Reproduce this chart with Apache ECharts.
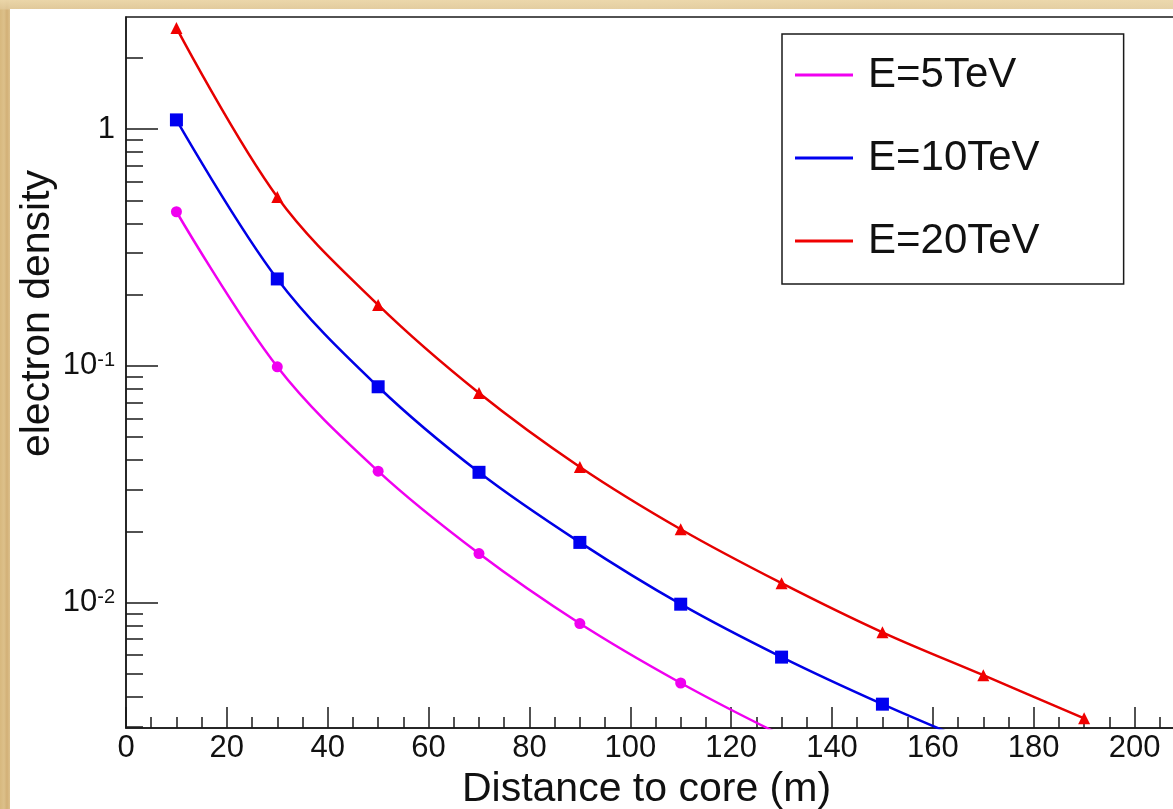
<!DOCTYPE html>
<html>
<head>
<meta charset="utf-8">
<script src="https://cdn.jsdelivr.net/npm/echarts@6/dist/echarts.min.js"></script>
<style>
  html, body { margin: 0; padding: 0; width: 1173px; height: 809px; overflow: hidden; }
  body {
    position: relative;
    background:
      linear-gradient(180deg, rgba(236,216,172,0.9) 0px, rgba(226,204,160,0.7) 9px, rgba(0,0,0,0) 10px),
      linear-gradient(90deg, #d7b87e 0px, #dcc08a 4px, #d2b077 7px, #dcc08c 10px, #e4cc9c 30%, #e8d4a8 55%, #e3c996 75%, #ecdcb6 100%);
  }
  #chart { position: absolute; left: 10px; top: 9px; width: 1175px; height: 800px; background: #fff; }
</style>
</head>
<body>
<div id="chart"></div>
<script>
// ---- data ----
const distances = [10, 30, 50, 70, 90, 110, 130, 150, 170, 190];
const density5TeV  = [0.448, 0.0991, 0.0359, 0.0161, 0.00815, 0.00457, 0.00275, 0.00174];
const density10TeV = [1.095, 0.233, 0.0816, 0.0355, 0.01795, 0.00984, 0.00588, 0.00372, 0.00245, 0.00165];
const density20TeV = [2.68, 0.517, 0.181, 0.0768, 0.0374, 0.0204, 0.01207, 0.00748, 0.00493, 0.00324];
const seriesNames = ['E=5TeV', 'E=10TeV', 'E=20TeV'];
const xMajorTicks = [0, 20, 40, 60, 80, 100, 120, 140, 160, 180, 200];
const xMinorTicks = [5, 10, 15, 25, 30, 35, 45, 50, 55, 65, 70, 75, 85, 90, 95, 105, 110, 115, 125, 130, 135, 145, 150, 155, 165, 170, 175, 185, 190, 195, 205];
const yMajorTicks = [0.01, 0.1, 1];
const yMinorTicks = [0.003, 0.004, 0.005, 0.006, 0.007, 0.008, 0.009,
                     0.02, 0.03, 0.04, 0.05, 0.06, 0.07, 0.08, 0.09,
                     0.2, 0.3, 0.4, 0.5, 0.6, 0.7, 0.8, 0.9, 2];
const xRange = [0, 210];
const yRange = [0.00295, 2.98];

const FONT = '"Liberation Sans", Arial, Helvetica, sans-serif';
const AX = '#1a1a1a';

function pairs(vals) { return vals.map((v, i) => [distances[i], v]); }

const chart = echarts.init(document.getElementById('chart'), null, { renderer: 'canvas' });

const yLabelFmt = function (v) {
  const e = Math.round(Math.log10(v));
  if (e === 0) return '1';
  return '10{sup|' + e + '}';
};

const option = {
  animation: false,
  textStyle: { fontFamily: FONT },
  grid: {
    left: 116, top: 8, right: 0, bottom: 81,
    outerBoundsMode: 'none', containLabel: false,
    show: true, borderColor: AX, borderWidth: 1.5, backgroundColor: '#fff'
  },
  legend: {
    orient: 'vertical',
    left: 772, top: 25,
    icon: 'rect', itemWidth: 58, itemHeight: 3, itemGap: 39,
    padding: [19, 84, 21, 13],
    backgroundColor: '#fff', borderColor: AX, borderWidth: 1.5,
    textStyle: { fontSize: 42, lineHeight: 44, color: '#111', fontFamily: FONT, padding: [0, 0, 0, 10] },
    data: seriesNames
  },
  xAxis: [{
    type: 'value', min: xRange[0], max: xRange[1],
    name: 'Distance to core (m)', nameLocation: 'middle', nameGap: 32,
    nameTextStyle: { fontSize: 41, color: '#111', fontFamily: FONT, padding: [0, 18, 0, 0] },
    axisLine: { lineStyle: { color: AX, width: 1.5 } },
    axisTick: { inside: true, length: 21, customValues: xMajorTicks, lineStyle: { color: AX, width: 1.5 } },
    axisLabel: { customValues: xMajorTicks, fontSize: 31, color: '#111', margin: 5, fontFamily: FONT },
    splitLine: { show: false }
  }, {
    type: 'value', min: xRange[0], max: xRange[1], position: 'bottom',
    axisLine: { show: false },
    axisTick: { inside: true, length: 11, customValues: xMinorTicks, lineStyle: { color: AX, width: 1.5 } },
    axisLabel: { show: false },
    splitLine: { show: false }
  }],
  yAxis: [{
    type: 'log', logBase: 10, min: yRange[0], max: yRange[1],
    name: 'electron density', nameLocation: 'middle', nameGap: 68, nameMoveOverlap: false,
    nameTextStyle: { fontSize: 41, color: '#111', fontFamily: FONT, padding: [0, 0, 0, 118] },
    axisLine: { show: true, lineStyle: { color: AX, width: 1.5 } },
    axisTick: { inside: true, length: 32, customValues: yMajorTicks, lineStyle: { color: AX, width: 1.5 } },
    axisLabel: {
      customValues: yMajorTicks, fontSize: 31, color: '#111', margin: 11, fontFamily: FONT,
      formatter: yLabelFmt,
      rich: { sup: { fontSize: 20, verticalAlign: 'top', color: '#111', fontFamily: FONT } }
    },
    splitLine: { show: false }
  }, {
    type: 'log', logBase: 10, min: yRange[0], max: yRange[1], position: 'left',
    axisLine: { show: false },
    axisTick: { inside: true, length: 17, customValues: yMinorTicks, lineStyle: { color: AX, width: 1.5 } },
    axisLabel: { show: false },
    splitLine: { show: false }
  }],
  series: [{
    name: seriesNames[0], type: 'line', smooth: 0.35, clip: true,
    symbol: 'circle', symbolSize: 11,
    color: '#f000f0',
    lineStyle: { width: 2.5, color: '#f000f0' },
    itemStyle: { color: '#f000f0' },
    data: pairs(density5TeV)
  }, {
    name: seriesNames[1], type: 'line', smooth: 0.35, clip: true,
    symbol: 'rect', symbolSize: 13,
    color: '#0000e6',
    lineStyle: { width: 2.5, color: '#0000e6' },
    itemStyle: { color: '#0000f0' },
    data: pairs(density10TeV)
  }, {
    name: seriesNames[2], type: 'line', smooth: 0.35, clip: true,
    symbol: 'triangle', symbolSize: 12,
    color: '#e60000',
    lineStyle: { width: 2.5, color: '#e60000' },
    itemStyle: { color: '#f00000' },
    data: pairs(density20TeV)
  }]
};
chart.setOption(option);
</script>
</body>
</html>
